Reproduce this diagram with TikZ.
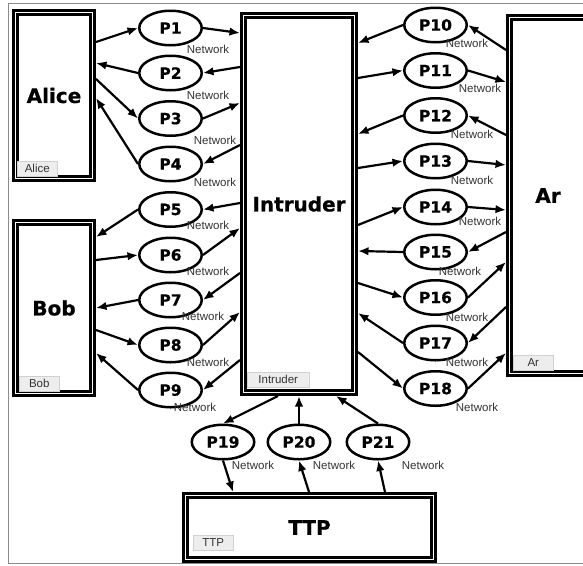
\documentclass[tikz,border=0pt]{standalone}
\usepackage{fontspec}
\setmainfont{Liberation Sans}
\newfontfamily\heavyfont{DejaVu Sans Bold}[FakeBold=0.6]
\usepackage{tikz}
\usetikzlibrary{arrows.meta,positioning,shapes.geometric}
\definecolor{framegray}{HTML}{8A8A8A}
\definecolor{tabfill}{HTML}{EDEDED}
\definecolor{tabline}{HTML}{D0D0D0}
\definecolor{textgray}{HTML}{333333}

\begin{document}
\begin{tikzpicture}[x=1pt,y=-1pt,
  agent/.style={draw=black,double=white,line width=2.6pt,double distance=1.8pt,outer sep=3.5pt,inner sep=0pt,font=\heavyfont\fontsize{20}{24}\selectfont},
  msg/.style={ellipse,draw=black,line width=2.5pt,minimum width=62.5pt,minimum height=34.5pt,inner sep=0pt,font=\heavyfont\fontsize{15.5}{18}\selectfont},
  net/.style={inner sep=0pt,text=textgray,font=\fontsize{11.5}{13}\selectfont},
  tab/.style={anchor=south west,fill=tabfill,draw=tabline,line width=0.5pt,minimum width=40pt,minimum height=15pt,inner sep=0pt,text=textgray,font=\fontsize{11.5}{13}\selectfont},
  arr/.style={-{Latex[length=10.5pt,width=8.5pt]},line width=2.2pt}]
  \clip (0,0) rectangle (583,565);
  \draw[framegray,line width=0.8pt] (8,3) rectangle (600,563);

  % principals
  \node[agent,minimum width=77pt,minimum height=166pt] (alice) at (54,95.5) {Alice};
  \node[agent,minimum width=77pt,minimum height=171pt] (bob) at (54,308) {Bob};
  \node[agent,minimum width=111pt,minimum height=377pt] (intruder) at (299,204) {Intruder};
  \node[agent,minimum width=77pt,minimum height=356pt] (ar) at (548,195.5) {Ar};
  \node[agent,minimum width=248pt,minimum height=64pt] (ttp) at (309.5,527.5) {TTP};
  \node[tab] (alicetab) at ([xshift=5pt,yshift=6pt]alice.south west) {Alice};
  \node[tab] (bobtab) at ([xshift=7pt,yshift=6pt]bob.south west) {Bob};
  \node[tab,minimum width=62pt] (intrudertab) at ([xshift=7pt,yshift=9pt]intruder.south west) {Intruder};
  \node[tab] (artab) at ([xshift=7pt,yshift=7pt]ar.south west) {Ar};
  \node[tab] (ttptab) at ([xshift=11pt,yshift=13pt]ttp.south west) {TTP};

  % messages
  \node[msg] (p1) at (170.5,28) {P1};
  \node[msg] (p2) at (170.5,73) {P2};
  \node[msg] (p3) at (170.5,118.5) {P3};
  \node[msg] (p4) at (170.5,164) {P4};
  \node[msg] (p5) at (170.5,209.5) {P5};
  \node[msg] (p6) at (170.5,255) {P6};
  \node[msg] (p7) at (170.5,300) {P7};
  \node[msg] (p8) at (170.5,345) {P8};
  \node[msg] (p9) at (170.5,390) {P9};
  \node[msg] (p10) at (435.5,25) {P10};
  \node[msg] (p11) at (435.5,70.5) {P11};
  \node[msg] (p12) at (435.5,115.5) {P12};
  \node[msg] (p13) at (435.5,161) {P13};
  \node[msg] (p14) at (435.5,207) {P14};
  \node[msg] (p15) at (435.5,252) {P15};
  \node[msg] (p16) at (435.5,297.5) {P16};
  \node[msg] (p17) at (435.5,343) {P17};
  \node[msg] (p18) at (435.5,388.5) {P18};
  \node[msg] (p19) at (223,442) {P19};
  \node[msg] (p20) at (299,442) {P20};
  \node[msg] (p21) at (378,442) {P21};

  % Alice and Bob side
  \draw[arr] ([yshift=-33pt]alice.north east) -- (p1.west);
  \draw[arr] (p1.east) -- ([yshift=-21pt]intruder.north west);
  \draw[arr] ([yshift=-55pt]intruder.north west) -- (p2.east);
  \draw[arr] (p2.west) -- ([yshift=-54pt]alice.north east);
  \draw[arr] ([yshift=-70pt]alice.north east) -- (p3.west);
  \draw[arr] (p3.east) -- ([yshift=-91pt]intruder.north west);
  \draw[arr] ([yshift=-133pt]intruder.north west) -- (p4.east);
  \draw[arr] (p4.west) -- ([yshift=-89pt]alice.north east);
  \draw[arr] ([yshift=-191pt]intruder.north west) -- (p5.east);
  \draw[arr] (p5.west) -- ([yshift=-18pt]bob.north east);
  \draw[arr] ([yshift=-41pt]bob.north east) -- (p6.west);
  \draw[arr] (p6.east) -- ([yshift=-216pt]intruder.north west);
  \draw[arr] ([yshift=-261pt]intruder.north west) -- (p7.east);
  \draw[arr] (p7.west) -- ([yshift=-89pt]bob.north east);
  \draw[arr] ([yshift=-111pt]bob.north east) -- (p8.west);
  \draw[arr] (p8.east) -- ([yshift=-300pt]intruder.north west);
  \draw[arr] ([yshift=-348pt]intruder.north west) -- (p9.east);
  \draw[arr] (p9.west) -- ([yshift=-134pt]bob.north east);

  % Ar side
  \draw[arr] ([yshift=-36pt]ar.north west) -- (p10.east);
  \draw[arr] (p10.west) -- ([yshift=-31pt]intruder.north east);
  \draw[arr] ([yshift=-66pt]intruder.north east) -- (p11.west);
  \draw[arr] (p11.east) -- ([yshift=-68pt]ar.north west);
  \draw[arr] ([yshift=-121pt]ar.north west) -- (p12.east);
  \draw[arr] (p12.west) -- ([yshift=-122pt]intruder.north east);
  \draw[arr] ([yshift=-156pt]intruder.north east) -- (p13.west);
  \draw[arr] (p13.east) -- ([yshift=-151pt]ar.north west);
  \draw[arr] ([yshift=-213pt]intruder.north east) -- (p14.west);
  \draw[arr] (p14.east) -- ([yshift=-196pt]ar.north west);
  \draw[arr] ([yshift=-218pt]ar.north west) -- (p15.east);
  \draw[arr] (p15.west) -- ([yshift=-239pt]intruder.north east);
  \draw[arr] ([yshift=-271pt]intruder.north east) -- (p16.west);
  \draw[arr] (p16.east) -- ([yshift=-248pt]ar.north west);
  \draw[arr] ([yshift=-293pt]ar.north west) -- (p17.east);
  \draw[arr] (p17.west) -- ([yshift=-301pt]intruder.north east);
  \draw[arr] ([yshift=-340pt]intruder.north east) -- (p18.west);
  \draw[arr] (p18.east) -- ([yshift=-339pt]ar.north west);

  % TTP side
  \draw[arr] ([xshift=38pt]intruder.south west) -- (p19.north);
  \draw[arr] (p19.south) -- ([xshift=51pt]ttp.north west);
  \draw[arr] ([xshift=127pt]ttp.north west) -- (p20.south);
  \draw[arr] (p20.north) -- ([xshift=59pt]intruder.south west);
  \draw[arr] ([xshift=203pt]ttp.north west) -- (p21.south);
  \draw[arr] (p21.north) -- ([xshift=96pt]intruder.south west);

  % channel labels
  \node[net] (n1) at (208,49) {Network};
  \node[net] (n2) at (208,95) {Network};
  \node[net] (n3) at (215,140) {Network};
  \node[net] (n4) at (215,182) {Network};
  \node[net] (n5) at (208,225) {Network};
  \node[net] (n6) at (208,271) {Network};
  \node[net] (n7) at (203,316) {Network};
  \node[net] (n8) at (208,362) {Network};
  \node[net] (n9) at (195,407) {Network};
  \node[net] (n10) at (467,43) {Network};
  \node[net] (n11) at (480,88) {Network};
  \node[net] (n12) at (472,134) {Network};
  \node[net] (n13) at (472,180) {Network};
  \node[net] (n14) at (480,221) {Network};
  \node[net] (n15) at (460,271) {Network};
  \node[net] (n16) at (467,317) {Network};
  \node[net] (n17) at (467,362) {Network};
  \node[net] (n18) at (477,407) {Network};
  \node[net] (n19) at (253,465) {Network};
  \node[net] (n20) at (334,465) {Network};
  \node[net] (n21) at (423,465) {Network};
\end{tikzpicture}
\end{document}
